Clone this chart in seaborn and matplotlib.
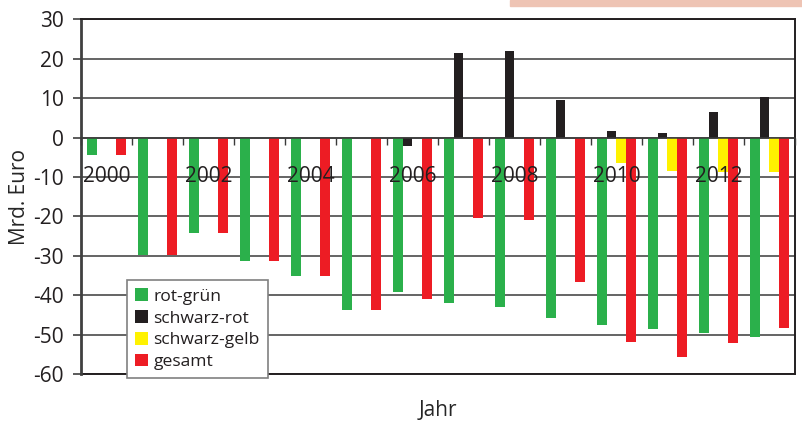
import numpy as np
import pandas as pd
import matplotlib
matplotlib.use("Agg")
import matplotlib.pyplot as plt
import seaborn as sns
from matplotlib.patches import Rectangle

# Finanzierungssaldo nach Regierungskoalition, Mrd. Euro
years = list(range(2000, 2014))
rot_gruen = [-4.4, -29.8, -24.3, -31.2, -35.0, -43.8, -39.1, -41.9, -43.1, -45.9, -47.5, -48.6, -49.7, -50.5]
schwarz_rot = [np.nan, np.nan, np.nan, np.nan, np.nan, np.nan, -2.1, 21.6, 22.1, 9.5, 1.6, 1.1, 6.4, 10.3]
schwarz_gelb = [np.nan] * 10 + [-6.4, -8.4, -8.8, -8.7]
gesamt = [-4.4, -29.8, -24.3, -31.2, -35.0, -43.8, -40.9, -20.3, -20.8, -36.7, -51.8, -55.8, -52.2, -48.4]

series_names = ["rot-grün", "schwarz-rot", "schwarz-gelb", "gesamt"]
series_colors = ["#2BB04B", "#231F20", "#FFF200", "#ED1C24"]
y_ticks = list(range(-60, 31, 10))
x_labels = [str(y) if y % 2 == 0 else "" for y in years]

df = pd.DataFrame({
    "Jahr": years * 4,
    "Serie": sum([[n] * len(years) for n in series_names], []),
    "Wert": rot_gruen + schwarz_rot + schwarz_gelb + gesamt,
}).dropna()

sns.set_theme(style="white")
plt.rcParams["font.family"] = ["Open Sans", "DejaVu Sans"]
plt.rcParams["text.color"] = "#231F20"
plt.rcParams["axes.unicode_minus"] = False

fig = plt.figure(figsize=(8.03, 4.24), dpi=100)
W, H = 803, 424
left, right, top, bottom = 81, 795, 19.5, 374
ax = fig.add_axes([left / W, 1 - bottom / H, (right - left) / W, (bottom - top) / H])

sns.barplot(data=df, x="Jahr", y="Wert", hue="Serie", hue_order=series_names,
            palette=series_colors, order=years, width=0.75, dodge=True,
            saturation=1, linewidth=0, errorbar=None, ax=ax)

ax.set_ylim(-60, 30)
ax.set_xlim(-0.5, len(years) - 0.5)
ax.set_yticks(y_ticks)
ax.tick_params(axis="y", which="major", direction="out", length=5.5, width=1.2,
               color="#404040", pad=7, labelsize=15, labelcolor="#231F20", left=True)
ax.yaxis.grid(True, color="#3a3a3a", linewidth=1.1)
ax.xaxis.grid(False)
ax.yaxis.set_zorder(0.5)

# x axis sits on the zero line; boundary ticks, year labels centred on every other group
ax.spines["bottom"].set_position(("data", 0))
ax.spines["bottom"].set_color("#3a3a3a")
ax.spines["bottom"].set_linewidth(1.1)
ax.set_xticks(np.arange(-0.5, len(years), 1.0))
ax.set_xticklabels([])
ax.set_xticks(np.arange(len(years)), minor=True)
ax.set_xticklabels(x_labels, minor=True)
ax.tick_params(axis="x", which="major", direction="out", length=5, width=1,
               color="#3a3a3a", bottom=True)
ax.tick_params(axis="x", which="minor", length=0, pad=20.5, labelsize=15,
               labelcolor="#231F20", bottom=True)
ax.xaxis.set_zorder(3)

ax.spines["left"].set_color("#404040")
ax.spines["left"].set_linewidth(2)
for s in ("top", "right"):
    ax.spines[s].set_color("#231F20")
    ax.spines[s].set_linewidth(1.4)
ax.axhline(-60, color="#231F20", linewidth=1.4, clip_on=False, zorder=2.5)

ax.set_xlabel("Jahr", fontsize=15)
ax.set_ylabel("Mrd. Euro", fontsize=15)
ax.xaxis.set_label_coords(0.5, -0.072)
ax.yaxis.set_label_coords(-0.071, 0.5)

handles, labels = ax.get_legend_handles_labels()
ax.legend(handles, labels, loc="lower left",
          bbox_to_anchor=(127.3 / W, 1 - 378 / H), bbox_transform=fig.transFigure,
          borderaxespad=0, fontsize=12.6, frameon=True, fancybox=False,
          edgecolor="#808080", framealpha=1, handlelength=0.75, handleheight=0.75,
          handletextpad=0.3, labelspacing=0.3, borderpad=0.45)
leg = ax.get_legend()
leg.get_frame().set_linewidth(1.2)
leg.set_zorder(5)

# decorative band along the upper edge
fig.patches.append(Rectangle((510 / W, 1 - 6 / H), 1 - 510 / W, 6 / H,
                             transform=fig.transFigure, color="#EEC4B4", zorder=0))

fig.savefig("out.png", dpi=100)
